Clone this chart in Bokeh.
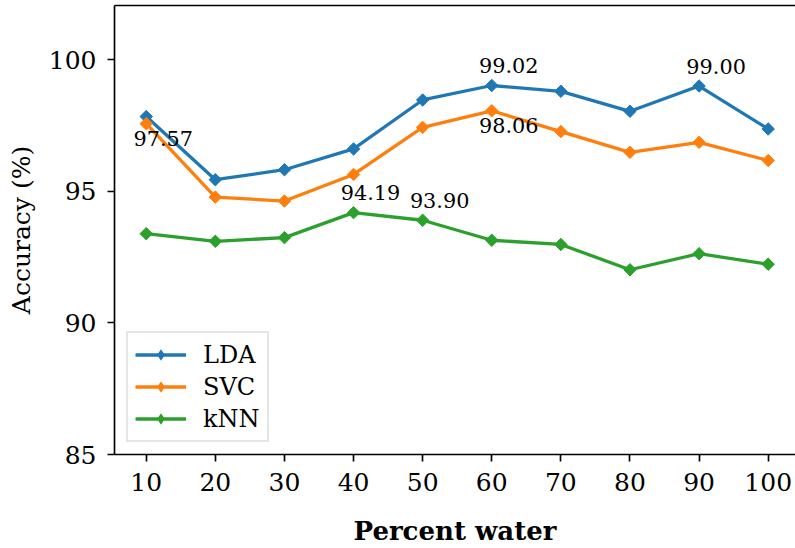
import math
from bokeh.plotting import figure
from bokeh.models import Range1d, LinearAxis, FixedTicker, Legend, LegendItem, ColumnDataSource
from bokeh.embed import file_html
from bokeh.resources import INLINE

# ---- data ----
water = [10, 20, 30, 40, 50, 60, 70, 80, 90, 100]
lda = [97.84, 95.44, 95.82, 96.61, 98.47, 99.02, 98.80, 98.04, 99.00, 97.37]
svc = [97.57, 94.78, 94.63, 95.64, 97.43, 98.06, 97.27, 96.48, 96.86, 96.17]
knn = [93.39, 93.10, 93.24, 94.19, 93.90, 93.14, 92.98, 92.02, 92.63, 92.23]
series_names = ["LDA", "SVC", "kNN"]
series_colors = ["#1f77b4", "#ff7f0e", "#2ca02c"]
y_ticks = [85, 90, 95, 100]

# annotated points
ann_series = ["SVC", "LDA", "SVC", "LDA", "kNN", "kNN"]
ann_water = [10, 60, 60, 90, 40, 50]
ann_side = ["below", "above", "below", "above", "above", "above"]

FONT = "DejaVu Serif"
FS = "25px"       # ticks, axis labels
FS_ANN = "20.8px" # value annotations

p = figure(width=795, height=548,
           x_range=Range1d(5.41, 103.95), y_range=Range1d(85, 102.06),
           output_backend="svg", toolbar_location=None,
           min_border_left=114, min_border_right=0, min_border_top=5, min_border_bottom=93)
p.outline_line_color = None
p.xgrid.visible = False
p.ygrid.visible = False
p.background_fill_color = "white"
p.border_fill_color = "white"

values = {"LDA": lda, "SVC": svc, "kNN": knn}
items = []
for name, col in zip(series_names, series_colors):
    src = ColumnDataSource(dict(x=water, y=values[name]))
    lr = p.line("x", "y", source=src, line_color=col, line_width=3.3)
    p.scatter("x", "y", source=src, marker="square", size=8.8, angle=math.pi / 4,
              fill_color=col, line_color=col, line_width=1)
    # legend-only marker: size 0 in the plot, the legend sizes it from its glyph box
    lg = p.scatter("x", "y", source=src, marker="diamond", size=0,
                   fill_color=col, line_color=col, line_alpha=0, line_width=0)
    items.append(LegendItem(label=name, renderers=[lr, lg]))

# annotations
ax, ay, at, ady = [], [], [], []
for s, w, side in zip(ann_series, ann_water, ann_side):
    v = values[s][water.index(w)]
    ax.append(w)
    ay.append(v)
    at.append("%.2f" % v)
    ady.append(-20 if side == "above" else 15)
asrc = ColumnDataSource(dict(x=ax, y=ay, t=at, dy=ady))
p.text("x", "y", text="t", source=asrc, x_offset=17, y_offset="dy",
       text_align="center", text_baseline="alphabetic",
       text_font={"value": FONT}, text_font_size={"value": FS_ANN}, text_color="black")

# axes
for ax_ in (p.xaxis[0], p.yaxis[0]):
    ax_.axis_line_width = 1.67
    ax_.axis_line_color = "black"
    ax_.major_tick_line_width = 1.67
    ax_.major_tick_line_color = "black"
    ax_.major_tick_out = 7
    ax_.major_tick_in = 0
    ax_.minor_tick_out = 0
    ax_.minor_tick_in = 0
    ax_.major_label_text_font = FONT
    ax_.major_label_text_font_size = FS
    ax_.major_label_text_color = "black"
    ax_.axis_label_text_font = FONT
    ax_.axis_label_text_font_size = FS
    ax_.axis_label_text_color = "black"

p.xaxis[0].ticker = FixedTicker(ticks=water)
p.xaxis[0].major_label_standoff = 11
p.xaxis[0].axis_label = "Percent water"
p.xaxis[0].axis_label_text_font_style = "bold"
p.xaxis[0].axis_label_text_font_size = "26px"
p.xaxis[0].axis_label_standoff = 22

p.yaxis[0].ticker = FixedTicker(ticks=y_ticks)
p.yaxis[0].major_label_standoff = 11
p.yaxis[0].axis_label = "Accuracy (%)"
p.yaxis[0].axis_label_text_font_style = "normal"
p.yaxis[0].axis_label_standoff = 10

top = LinearAxis(ticker=FixedTicker(ticks=[]), axis_line_width=1.67, axis_line_color="black",
                 major_tick_out=0, major_tick_in=0, minor_tick_out=0, minor_tick_in=0,
                 major_label_standoff=0, axis_label_standoff=0,
                 major_label_text_font_size="0px")
p.add_layout(top, "above")

legend = Legend(items=items, location=(12, 12),
                glyph_width=51, glyph_height=29, label_height=29, label_width=40,
                label_standoff=17, spacing=3, padding=7, margin=0,
                label_text_font=FONT, label_text_font_size="24px", label_text_color="black",
                border_line_color="#cccccc", border_line_width=2,
                background_fill_color="white", background_fill_alpha=0.8)
p.add_layout(legend)

open("out.html", "w").write(file_html(p, INLINE))
